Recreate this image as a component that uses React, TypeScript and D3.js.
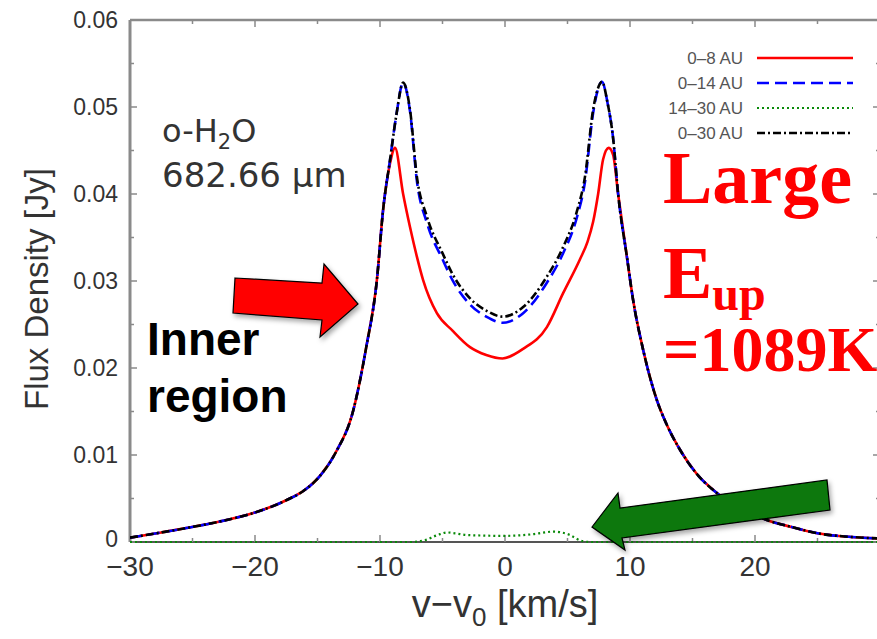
import React from "react";
import * as d3 from "d3";

// Velocity grid (km/s) shared by the 0–30 AU and 0–14 AU profiles
const velocity = [
  -30, -27.5, -25.5, -23, -20.2, -17.5, -16, -14.8, -13.5, -12.2, -11.1, -10.25,
  -9.75, -9.2, -8.7, -8.15, -7.6, -7.05, -6.25, -5.0, -4.2, -2.8, -1.5, -0.2, 1.45,
  3.35, 4.65, 5.75, 6.4, 7.05, 7.45, 7.76, 8.2, 8.65, 9.05, 9.75, 10.25, 11.05, 12.15,
  13.0, 14.0, 15.3, 16.9, 19.0, 21.0, 23.0, 25.0, 27.5, 30,
];

// Flux density (Jy), 0–30 AU
const flux0to30 = [
  0.0005, 0.0011, 0.0016, 0.0023, 0.0033, 0.0048, 0.006, 0.0076, 0.0104, 0.0148,
  0.0224, 0.0301, 0.0382, 0.0439, 0.049, 0.0528, 0.0497, 0.042, 0.0374, 0.0332,
  0.0308, 0.028, 0.0266, 0.0259, 0.027, 0.0305, 0.0339, 0.038, 0.042, 0.0497, 0.0522,
  0.0529, 0.0505, 0.0464, 0.04, 0.0328, 0.0278, 0.0221, 0.0163, 0.0133, 0.0106,
  0.0079, 0.0057, 0.0038, 0.0025, 0.0017, 0.001, 0.0006, 0.0004,
];

// Flux density (Jy), 0–14 AU
const flux0to14 = [
  0.0005, 0.0011, 0.0016, 0.0023, 0.0033, 0.0048, 0.006, 0.0076, 0.0104, 0.0148,
  0.0224, 0.0301, 0.0382, 0.0439, 0.049, 0.0528, 0.0495, 0.0415, 0.0367, 0.0325,
  0.0301, 0.0273, 0.0259, 0.0252, 0.0263, 0.0298, 0.0332, 0.0373, 0.0414, 0.0493,
  0.0521, 0.0529, 0.0505, 0.0464, 0.04, 0.0328, 0.0278, 0.0221, 0.0163, 0.0133,
  0.0106, 0.0079, 0.0057, 0.0038, 0.0025, 0.0017, 0.001, 0.0006, 0.0004,
];

// Velocity grid and flux density (Jy), 0–8 AU
const velocityInner = [
  -30, -27.5, -25.5, -23, -20.2, -17.5, -16, -14.8, -13.5, -12.2, -11.1, -10.25,
  -9.75, -9.2, -8.8, -8.15, -7.6, -7.05, -6.55, -5.45, -4.2, -2.8, -1.5, -0.2, 1.45,
  3.35, 4.65, 6.0, 6.6, 7.05, 7.45, 7.85, 8.3, 8.65, 9.05, 9.75, 10.25, 11.05, 12.15,
  13.0, 14.0, 15.3, 16.9, 19.0, 21.0, 23.0, 25.0, 27.5, 30,
];
const flux0to8 = [
  0.0005, 0.0011, 0.0016, 0.0023, 0.0033, 0.0048, 0.006, 0.0076, 0.0104, 0.0148,
  0.0224, 0.0301, 0.0382, 0.0435, 0.0453, 0.04, 0.0362, 0.0328, 0.0301, 0.0263,
  0.0243, 0.0224, 0.0215, 0.0211, 0.0222, 0.0247, 0.0286, 0.0325, 0.0345, 0.0368,
  0.04, 0.044, 0.0453, 0.0445, 0.04, 0.0328, 0.0278, 0.0221, 0.0163, 0.0133, 0.0106,
  0.0079, 0.0057, 0.0038, 0.0025, 0.0017, 0.001, 0.0006, 0.0004,
];

// Velocity grid and flux density (Jy), 14–30 AU
const velocityOuter = [
  -30, -7.5, -6.8, -6.2, -5.75, -5.2, -4.65, -4.0, -3.05, -2.0, -0.4, 1.0, 2.25, 3.2,
  3.85, 4.5, 5.2, 5.7, 6.2, 6.8, 30,
];
const flux14to30 = [
  0, 0, 0.0001, 0.0003, 0.0006, 0.0009, 0.0011, 0.001, 0.0008, 0.00075, 0.0007,
  0.00075, 0.0009, 0.0011, 0.0012, 0.0011, 0.0008, 0.0004, 0.0001, 0, 0,
];

const xTicks = [-30, -20, -10, 0, 10, 20];
const xTickLabels = ["−30", "−20", "−10", "0", "10", "20"];
const yTicks = [0, 0.01, 0.02, 0.03, 0.04, 0.05, 0.06];
const yTickLabels = ["0", "0.01", "0.02", "0.03", "0.04", "0.05", "0.06"];
const xMinorTicks = [-30, -25, -20, -15, -10, -5, 0, 5, 10, 15, 20, 25, 30];
const yMinorTicks = [0.005, 0.015, 0.025, 0.035, 0.045, 0.055];

const legendLabels = ["0–8 AU", "0–14 AU", "14–30 AU", "0–30 AU"];

const W = 877;
const H = 639;
const left = 130;
const right = 880;
const top = 20;
const bottom = 542;

export default function App() {
  const x = d3.scaleLinear().domain([-30, 30]).range([left, right]);
  const y = d3.scaleLinear().domain([0, 0.06]).range([bottom, top]);

  const line = d3
    .line<[number, number]>()
    .x((d) => x(d[0]))
    .y((d) => y(d[1]))
    .curve(d3.curveMonotoneX);

  const zip = (vs: number[], fs: number[]) =>
    vs.map((v, i) => [v, fs[i]] as [number, number]);

  const series = [
    { label: legendLabels[0], v: velocityInner, f: flux0to8, color: "#ff0000", dash: "none", w: 2.6 },
    { label: legendLabels[1], v: velocity, f: flux0to14, color: "#0000ff", dash: "12 6", w: 2.6 },
    { label: legendLabels[2], v: velocityOuter, f: flux14to30, color: "#0a8a0a", dash: "2 3", w: 2.2 },
    { label: legendLabels[3], v: velocity, f: flux0to30, color: "#000000", dash: "8 3 2 3", w: 2.6 },
  ];

  const axisColor = "#8a8a8a";
  const textColor = "#333";

  return (
    <svg
      width={W}
      height={H}
      viewBox={`0 0 ${W} ${H}`}
      style={{ position: "absolute", left: 0, top: 0, background: "#fff" }}
      fontFamily="'Liberation Sans', Arial, sans-serif"
    >
      <defs>
        <filter id="arrowShadow" x="-20%" y="-30%" width="150%" height="180%">
          <feDropShadow dx="2" dy="3" stdDeviation="2.5" floodColor="#000" floodOpacity="0.35" />
        </filter>
        <clipPath id="plotClip">
          <rect x={left} y={top - 5} width={right - left} height={bottom - top + 10} />
        </clipPath>
      </defs>
      <rect x={0} y={0} width={W} height={H} fill="#fff" />

      {/* frame */}
      <line x1={left} x2={right} y1={top} y2={top} stroke={axisColor} strokeWidth={2.5} />
      <line x1={right} x2={right} y1={top} y2={bottom} stroke={axisColor} strokeWidth={2.5} />
      <line x1={left} x2={right} y1={bottom} y2={bottom} stroke="#555" strokeWidth={2} />
      <line x1={left} x2={left} y1={top} y2={bottom} stroke={axisColor} strokeWidth={3} />

      {/* ticks */}
      {xMinorTicks.map((t) => {
        const major = xTicks.includes(t);
        const len = major ? 7 : 4;
        return (
          <g key={`xt${t}`} stroke={axisColor} strokeWidth={1.5}>
            <line x1={x(t)} x2={x(t)} y1={bottom} y2={bottom - len} />
            <line x1={x(t)} x2={x(t)} y1={top} y2={top + len} />
          </g>
        );
      })}
      {[...yTicks, ...yMinorTicks].map((t) => {
        const major = yTicks.includes(t);
        const len = major ? 7 : 4;
        return (
          <g key={`yt${t}`} stroke={axisColor} strokeWidth={1.5}>
            <line x1={left} x2={left + len} y1={y(t)} y2={y(t)} />
            <line x1={right} x2={right - len} y1={y(t)} y2={y(t)} />
          </g>
        );
      })}

      {/* tick labels */}
      {yTicks.map((t, i) => (
        <text
          key={`yl${t}`}
          x={left - 12}
          y={t === 0 ? y(t) - 3 : y(t)}
          dy="0.36em"
          textAnchor="end"
          fontSize={23}
          fill={textColor}
        >
          {yTickLabels[i]}
        </text>
      ))}
      {xTicks.map((t, i) => (
        <text key={`xl${t}`} x={x(t)} y={576} textAnchor="middle" fontSize={28} fill={textColor}>
          {xTickLabels[i]}
        </text>
      ))}

      {/* axis titles */}
      <text
        transform={`translate(48,289) rotate(-90)`}
        textAnchor="middle"
        fontSize={33}
        fill={textColor}
      >
        Flux Density [Jy]
      </text>
      <text x={505} y={617} textAnchor="middle" fontSize={38} fill={textColor}>
        v−v<tspan fontSize={26} dy={9}>0</tspan>
        <tspan dy={-9}> [km/s]</tspan>
      </text>

      {/* profiles */}
      <g clipPath="url(#plotClip)" fill="none">
        {series.map((s) => (
          <path
            key={s.label}
            d={line(zip(s.v, s.f)) || ""}
            stroke={s.color}
            strokeWidth={s.w}
            strokeDasharray={s.dash}
            strokeLinejoin="round"
          />
        ))}
      </g>

      {/* legend */}
      {series.map((s, i) => (
        <g key={`lg${s.label}`}>
          <text
            x={743}
            y={58 + i * 25}
            dy="0.35em"
            textAnchor="end"
            fontSize={17}
            fill="#555"
          >
            {s.label}
          </text>
          <line
            x1={757}
            x2={853}
            y1={58 + i * 25}
            y2={58 + i * 25}
            stroke={s.color}
            strokeWidth={s.w}
            strokeDasharray={s.dash}
          />
        </g>
      ))}

      {/* line identification */}
      <g fontFamily="'DejaVu Sans', sans-serif" fill="#333">
        <text x={162} y={142} fontSize={32}>
          o-H<tspan fontSize={21} dy={7}>2</tspan>
          <tspan dy={-7}>O</tspan>
        </text>
        <text x={162} y={187} fontSize={34}>
          682.66 μm
        </text>
      </g>

      {/* annotations */}
      <g fontWeight="bold" fill="#000" fontSize={46}>
        <text x={147} y={355}>Inner</text>
        <text x={147} y={412}>region</text>
      </g>
      <g fontFamily="'Liberation Serif', 'Times New Roman', serif" fontWeight="bold" fill="#ff0000">
        <text x={663} y={203} fontSize={74}>Large</text>
        <text x={663} y={298} fontSize={74}>
          E<tspan fontSize={48} dy={12}>up</tspan>
        </text>
        <text x={663} y={371} fontSize={64}>=1089K</text>
      </g>

      <polygon
        points="235,278 322,283 324,264 358,304 320,337 322,320 233,313"
        fill="#ff0000"
        stroke="#000"
        strokeWidth={1.2}
        filter="url(#arrowShadow)"
      />
      <polygon
        points="592,527 618,493 620,508 827,480 830,510 622,538 625,550"
        fill="#087808"
        stroke="#000"
        strokeWidth={1.2}
        filter="url(#arrowShadow)"
      />
    </svg>
  );
}
